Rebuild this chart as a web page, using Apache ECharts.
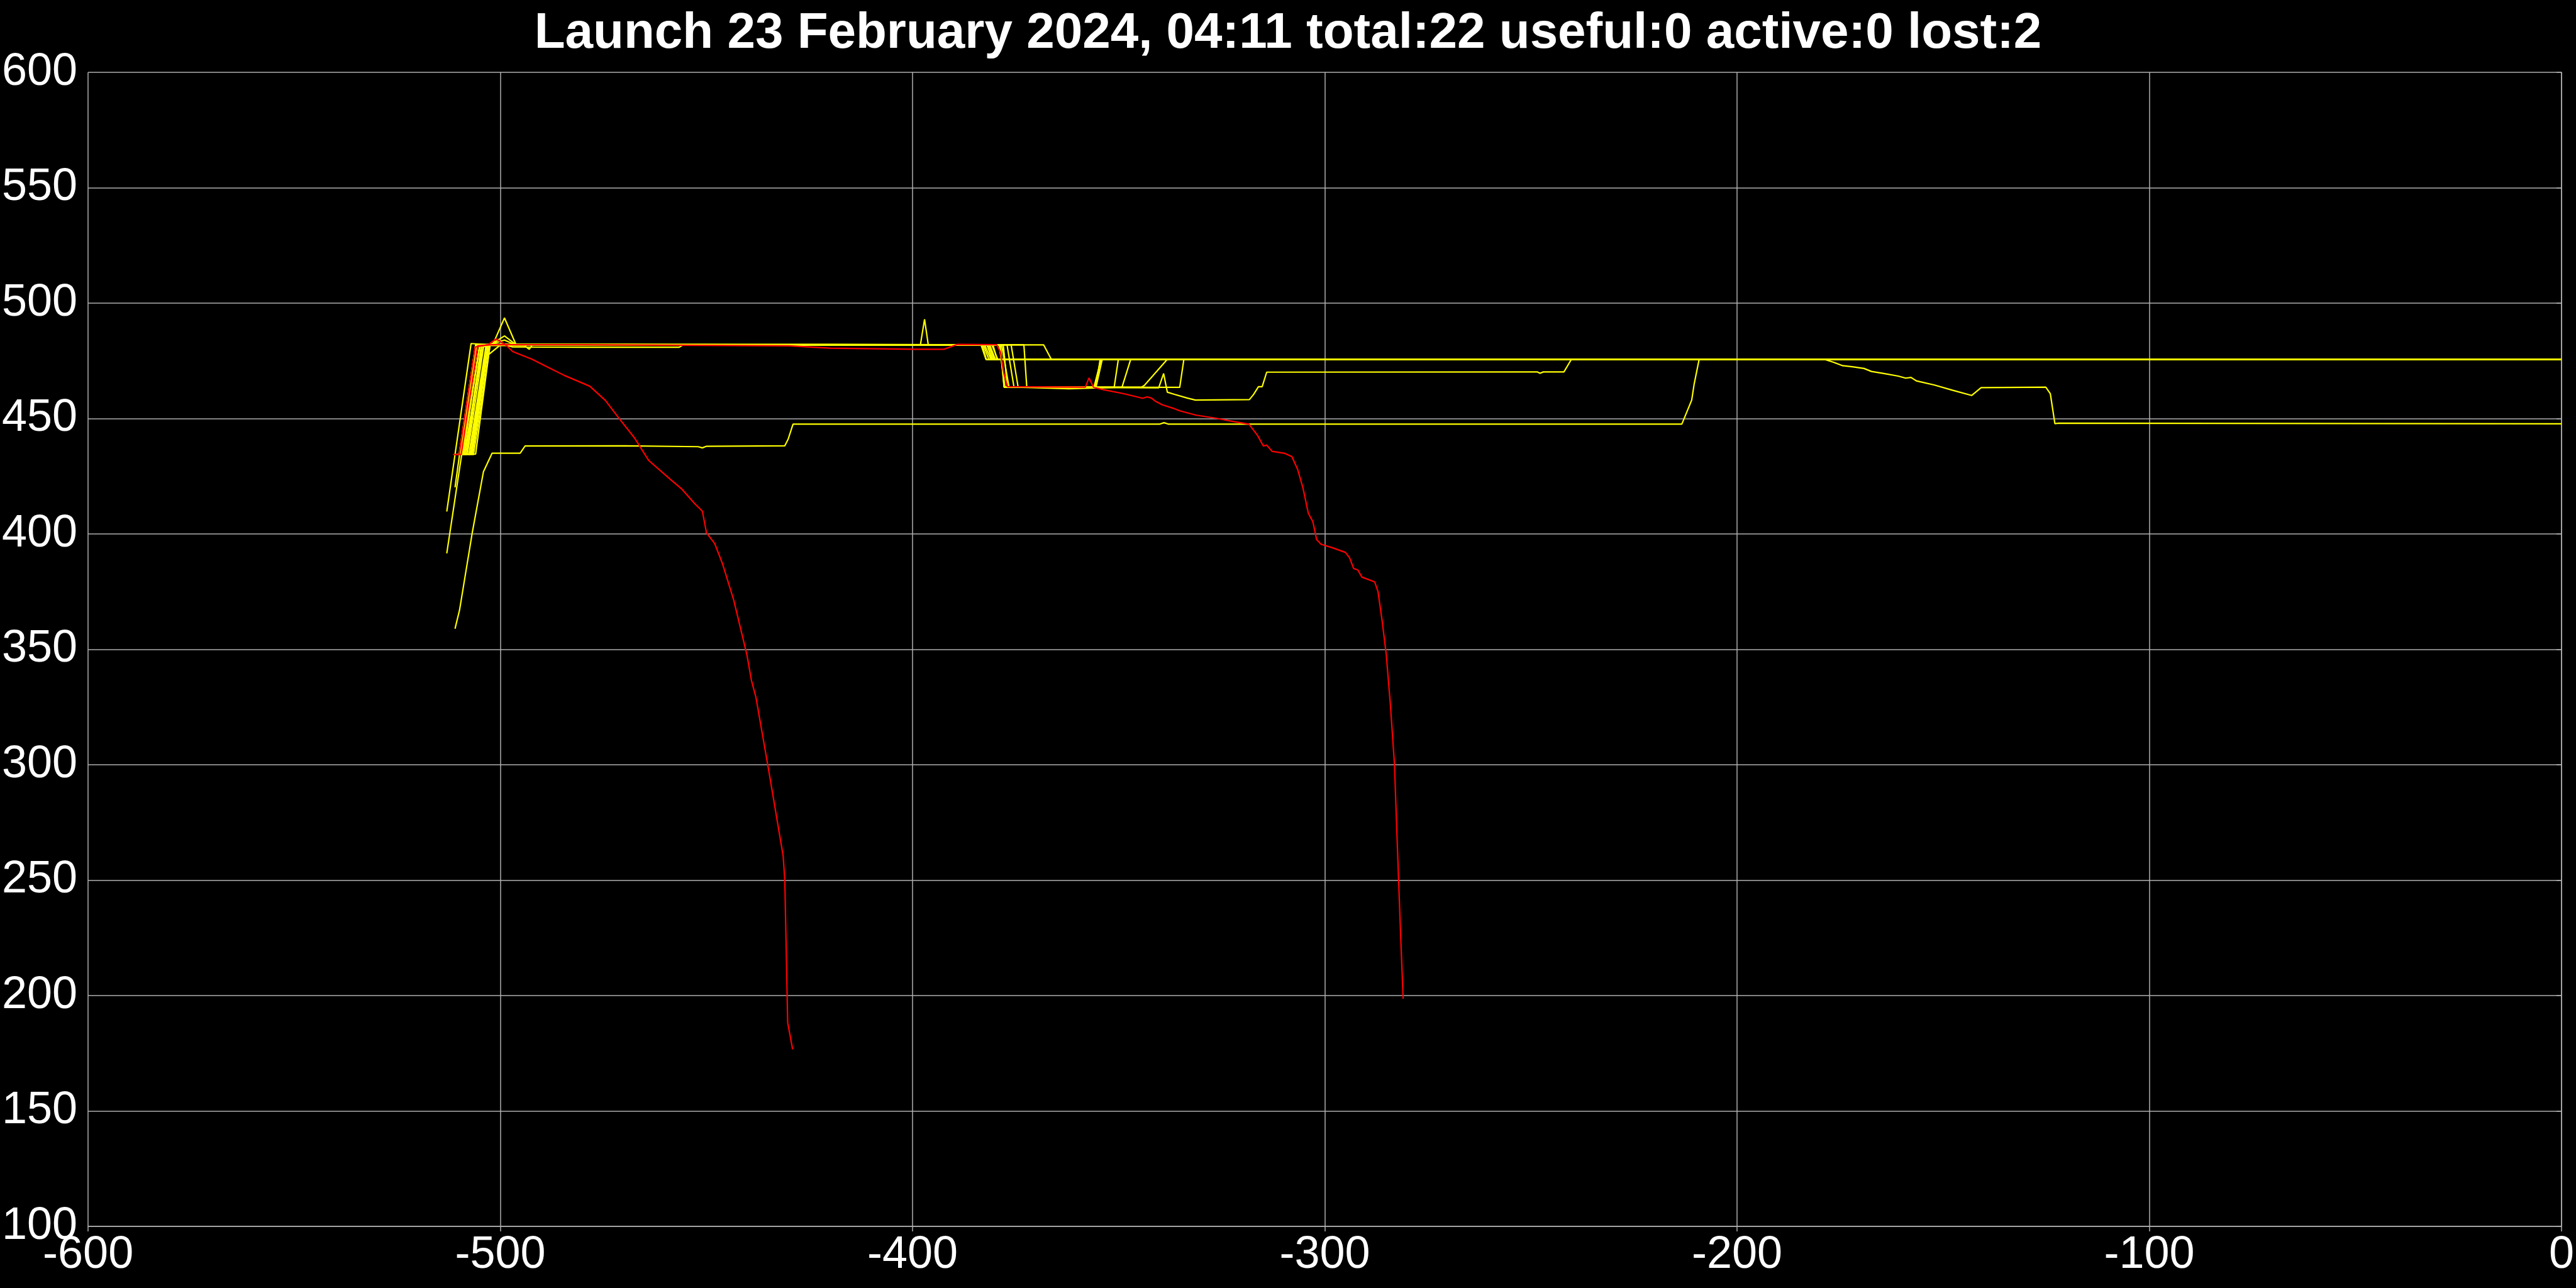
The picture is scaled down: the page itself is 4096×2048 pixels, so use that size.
<!DOCTYPE html>
<html>
<head>
<meta charset="utf-8">
<script src="https://cdn.jsdelivr.net/npm/echarts@6/dist/echarts.min.js"></script>
<style>
html,body{margin:0;padding:0;background:#000;}
#chart{width:4096px;height:2048px;}
</style>
</head>
<body>
<div id="chart"></div>
<script>
const titleText = 'Launch 23 February 2024, 04:11 total:22 useful:0 active:0 lost:2';
const xTicks = [-600, -500, -400, -300, -200, -100, 0];
const yTicks = [100, 150, 200, 250, 300, 350, 400, 450, 500, 550, 600];

// yellow tracks [time, altitude]
const y1 = [[-510.0,434.4],[-509.2,434.6],[-505.0,481.5],[-503,482.0],[-501.8,482.2],[-499.0,493.6],[-496.2,482.0],[-470,482.1],[-440,481.8],[-410,482.0],[-383.1,482.0],[-382.1,475.6],[0,475.6]];
const y2 = [[-509.5,434.4],[-508.8,434.5],[-504.2,481.0],[-502.5,481.8],[-499.0,485.8],[-496.2,482.0],[-460,481.9],[-420,482.1],[-382.5,481.9],[-381.0,475.5],[0,475.6]];
const y3 = [[-508.5,434.4],[-507.6,434.7],[-503.5,481.5],[-499,484.0],[-496.5,482],[-450,482.0],[-381.9,482.0],[-380.8,475.6],[0,475.5]];
const y4 = [[-509,434.4],[-508.2,434.5],[-504.5,481.7],[-494.1,481.6],[-493,480.0],[-492.3,481.8],[-440,481.9],[-381.3,481.9],[-379.9,475.6],[0,475.6]];
const y5 = [[-510.3,434.4],[-509.6,434.5],[-505.5,481.8],[-480,482],[-398.1,482.0],[-397.1,493.0],[-396.2,482.0],[-380.8,482.0],[-379.3,475.5],[0,475.6]];
const y6 = [[-508,434.4],[-507.2,434.6],[-503.6,476.6],[-499.7,482.3],[-497,481.0],[-480,480.9],[-456.6,480.9],[-455.8,481.8],[-420,481.9],[-368.2,481.9],[-366.3,475.5],[0,475.6]];
const y7 = [[-510.8,434.4],[-510.0,434.5],[-506.0,481.8],[-490,482],[-379.0,482.0],[-377.6,463.7],[-356.0,463.6],[-354.3,475.5],[0,475.6]];
const y8 = [[-509.8,434.4],[-509.0,434.6],[-505.0,482.1],[-378.7,482.0],[-377.8,463.6],[-355.8,463.6],[-355.0,470],[-354.5,475.6],[0,475.5]];
const y9 = [[-508.8,434.4],[-508.0,434.5],[-504.0,481.9],[-378.4,482.0],[-376.6,463.5],[-355.5,463.6],[-354.0,475.6],[0,475.6]];
const y10 = [[-508.2,434.4],[-507.5,434.6],[-503.3,481.8],[-377.1,482.0],[-375.4,463.6],[-351.1,463.6],[-350.1,475.5],[0,475.6]];
const y11 = [[-507.6,434.4],[-506.8,434.6],[-502.8,482.0],[-376.1,482.0],[-374.4,463.6],[-362,462.9],[-349.2,463.6],[-347.1,475.6],[0,475.5]];
const y12 = [[-507.2,434.4],[-506.5,434.5],[-502.5,481.8],[-373.0,482.0],[-372.3,463.6],[-344.5,463.6],[-343.8,464.3],[-338.3,475.5],[0,475.6]];
const y13 = [[-510.6,434.4],[-509.8,434.6],[-505.8,481.9],[-378.0,482.0],[-377.0,463.6],[-335.2,463.5],[-334.2,475.6],[0,475.6]];
const y14 = [[-509.3,434.4],[-508.5,434.5],[-504.6,482.0],[-378.8,482.0],[-377.8,463.6],[-340.3,463.3],[-339.1,469.5],[-338.2,461.4],[-336.5,460.5],[-333.4,458.9],[-331.4,458.0],[-318.3,458.2],[-317.3,460.4],[-316.1,463.8],[-315.2,463.8],[-314.1,470.1],[-248.5,470.2],[-247.8,469.6],[-247.0,470.2],[-242.0,470.2],[-240.2,475.6],[0,475.6]];
const y15 = [[-511,358.9],[-509.9,367],[-506.8,400.7],[-504.1,427],[-502,435],[-495.2,435],[-494,438.1],[-470,438.2],[-452,437.8],[-451,437.3],[-450,438],[-431,438.2],[-430.2,441],[-429,447.6],[-340,447.6],[-339,448.2],[-338,447.6],[-213.4,447.6],[-211,458],[-210.4,465],[-209.2,475.6],[-178.8,475.6],[-176.6,474.4],[-174.4,472.9],[-171.8,472.4],[-169.2,471.7],[-167.4,470.4],[-164.4,469.5],[-160.9,468.4],[-159.1,467.5],[-157.8,467.8],[-156.5,466.3],[-152.1,464.5],[-147.8,462.3],[-143.1,460],[-140.8,463.4],[-125.1,463.6],[-124,460.7],[-122.9,447.8],[-122,448],[0,447.7]];
const y16 = [[-513,409.7],[-507.1,482.5],[-503,482],[-470,481.9],[-383.4,482.0],[-382.2,475.6],[0,475.5]];
const y17 = [[-513,391.6],[-508.4,446],[-505.5,482],[-450,482.1],[-382.8,481.9],[-381.5,475.6],[0,475.6]];
const y18 = [[-511,420.2],[-509.9,434.4],[-506.0,482.0],[-430,482.0],[-382.0,482.0],[-380.5,475.5],[0,475.6]];
const y19 = [[-507.8,434.4],[-507.0,434.5],[-503.0,482.2],[-440,482],[-380.5,481.9],[-379.5,475.6],[0,475.6]];
const y20 = [[-506.8,434.4],[-506.0,434.6],[-502.5,481.9],[-400,482],[-381.6,482.0],[-380.2,475.6],[0,475.6]];

// lost (red) tracks
const red1 = [[-511.5,434.4],[-510,434.4],[-506.1,481],[-503,482],[-501,484.5],[-498.5,481.6],[-497,479],[-492.3,475.7],[-489.2,472.9],[-484.5,468.7],[-478.3,464],[-474.5,457.8],[-471.4,450.5],[-467.5,441.7],[-464,431.8],[-459,424],[-455.9,419.3],[-452.8,413],[-451,409.9],[-450,400.5],[-448,395.8],[-446.1,387],[-443.4,371.4],[-440.2,347.7],[-439.1,336.6],[-438,329.2],[-434.9,297.5],[-431.4,260.5],[-431,250],[-430.3,188.3],[-429.1,176.7]];
const red2 = [[-511,434.4],[-509.5,434.4],[-505.5,481.5],[-502,482],[-480,482],[-430,481.5],[-420,480.5],[-399,480],[-392.4,480],[-389.2,482.1],[-379.6,482],[-378.7,478.9],[-377.9,469.9],[-377,463.8],[-358.1,463.6],[-357.2,467.6],[-356.1,463.5],[-353.7,462.5],[-348.6,460.7],[-344.2,458.8],[-343.1,459.4],[-342.1,458.9],[-341,457.4],[-339.5,456],[-336.7,454.4],[-335.3,453.4],[-331.3,451.5],[-326,450],[-321.9,448.6],[-318.4,447.6],[-316.3,442.6],[-314.9,438.1],[-314.1,438.5],[-312.8,435.8],[-309.7,434.9],[-308,433.5],[-306.6,428],[-305.3,419.9],[-304,408.9],[-302.9,405.3],[-302,397.6],[-300.9,395.5],[-298.3,394.1],[-295,392],[-294,389.7],[-293,385],[-292,384.4],[-291,381.3],[-287.9,379.2],[-287.1,375],[-286.1,362.4],[-285.1,347.8],[-284.1,326.1],[-283.1,300],[-282.6,274.4],[-282.1,249.9],[-281.6,225.6],[-281,198.6]];

const yellowTracks = [y1,y2,y3,y4,y5,y6,y7,y8,y9,y10,y11,y12,y13,y14,y15,y16,y17,y18,y19,y20];
const redTracks = [red1, red2];

const series = [];
yellowTracks.forEach((d) => series.push({
  type: 'line', data: d, showSymbol: false, symbol: 'none',
  lineStyle: { color: '#ffff00', width: 2.2 }, z: 2
}));
redTracks.forEach((d) => series.push({
  type: 'line', data: d, showSymbol: false, symbol: 'none',
  lineStyle: { color: '#ff0000', width: 2.2 }, z: 3
}));

const chart = echarts.init(document.getElementById('chart'), null, { renderer: 'canvas' });
const gridColor = '#b0b0b0';
chart.setOption({
  backgroundColor: '#000000',
  animation: false,
  title: {
    text: titleText, left: 'center', top: 9,
    textStyle: { color: '#ffffff', fontSize: 80, fontWeight: 'bold', fontFamily: 'Liberation Sans' }
  },
  grid: { left: 132, right: 22, top: 115, bottom: 98, containLabel: false },
  xAxis: {
    type: 'value', min: xTicks[0], max: xTicks[xTicks.length - 1], interval: 100,
    axisLine: { show: true, lineStyle: { color: gridColor, width: 1.5 } },
    axisTick: { show: true, length: 8, lineStyle: { color: gridColor, width: 1.5 } },
    splitLine: { show: true, lineStyle: { color: gridColor, width: 1.5 } },
    axisLabel: { color: '#ffffff', fontSize: 72, fontFamily: 'Liberation Sans', margin: 10, showMaxLabel: true, showMinLabel: true }
  },
  yAxis: {
    type: 'value', min: yTicks[0], max: yTicks[yTicks.length - 1], interval: 50,
    axisLine: { show: true, lineStyle: { color: gridColor, width: 1.5 } },
    axisTick: { show: true, length: 8, lineStyle: { color: gridColor, width: 1.5 } },
    splitLine: { show: true, lineStyle: { color: gridColor, width: 1.5 } },
    axisLabel: { color: '#ffffff', fontSize: 72, fontFamily: 'Liberation Sans', margin: 17, padding: [0, 0, 14, 0], showMaxLabel: true, showMinLabel: true }
  },
  series: series
});
</script>
</body>
</html>
